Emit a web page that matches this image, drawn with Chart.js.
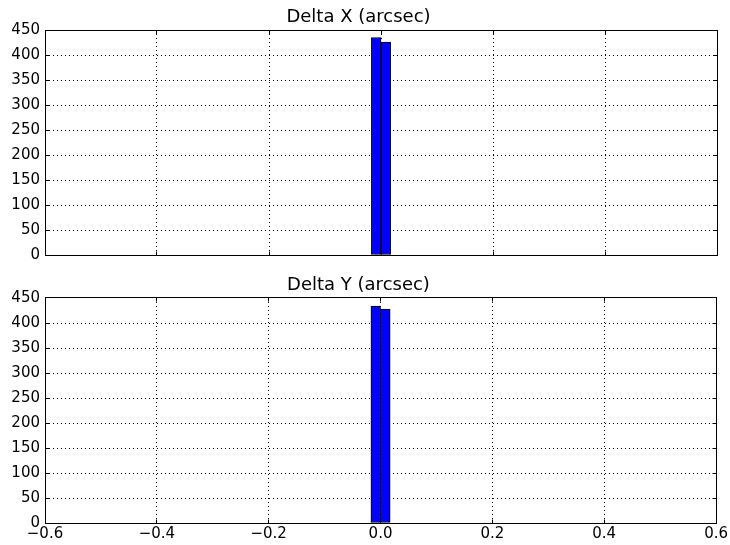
<!DOCTYPE html>
<html>
<head>
<meta charset="utf-8">
<script src="https://cdn.jsdelivr.net/npm/chart.js@4.4.0/dist/chart.umd.min.js"></script>
<style>
  html, body { margin: 0; padding: 0; background: #ffffff; }
  body { width: 730px; height: 545px; position: relative; overflow: hidden; }
  .panel { position: absolute; left: 0; width: 730px; }
  #p1 { top: 0; height: 270px; }
  #p2 { top: 270px; height: 275px; }
</style>
</head>
<body>
<div class="panel" id="p1"><canvas id="c1"></canvas></div>
<div class="panel" id="p2"><canvas id="c2"></canvas></div>
<script>
// ---- data ----
const titles = ["Delta X (arcsec)", "Delta Y (arcsec)"];
const binFirstEdge = -0.4816;
const binWidth = 0.0172;
// counts per bin (57 bins)
const countsX = [0,0,0,0,0,0,0,0,0,0, 0,0,0,0,0,0,0,0,0,0, 0,0,0,0,0,0,0,435,426,0, 0,0,0,0,0,0,0,0,0,0, 0,0,0,0,0,0,0,0,0,0, 0,0,0,0,0,0,0];
const countsY = [0,0,0,0,0,0,0,0,0,0, 0,0,0,0,0,0,0,0,0,0, 0,0,0,0,0,0,0,434,428,0, 0,0,0,0,0,0,0,0,0,0, 0,0,0,0,0,0,0,0,0,0, 0,0,0,0,0,0,0];
const xTicks = [-0.6, -0.4, -0.2, 0.0, 0.2, 0.4, 0.6];
const yTicks = [0, 50, 100, 150, 200, 250, 300, 350, 400, 450];

const FONT = "'DejaVu Sans', sans-serif";

function toPoints(counts) {
  return counts.map((c, i) => ({ x: binFirstEdge + (i + 0.5) * binWidth, y: c }));
}
function fmtX(v) {
  if (v < -1e-9) return '\u2212' + Math.abs(v).toFixed(1);
  return Math.abs(v).toFixed(1);
}
function al(p) { return Math.round(p - 0.5) + 0.5; }

const framePlugin = {
  id: 'frame',
  afterDraw(chart) {
    const ctx = chart.ctx;
    const xs = chart.scales.x, ys = chart.scales.y;
    const L = al(xs.getPixelForValue(-0.6)), R = al(xs.getPixelForValue(0.6));
    const T = al(ys.getPixelForValue(450)), B = al(ys.getPixelForValue(0));
    ctx.save();
    ctx.strokeStyle = '#000';
    ctx.lineWidth = 1;
    ctx.setLineDash([]);
    ctx.strokeRect(L, T, R - L, B - T);
    ctx.beginPath();
    xTicks.forEach(t => {
      const px = al(xs.getPixelForValue(t));
      ctx.moveTo(px, B); ctx.lineTo(px, B - 4);
      ctx.moveTo(px, T); ctx.lineTo(px, T + 4);
    });
    yTicks.forEach(t => {
      const py = al(ys.getPixelForValue(t));
      ctx.moveTo(L, py); ctx.lineTo(L + 4, py);
      ctx.moveTo(R, py); ctx.lineTo(R - 4, py);
    });
    ctx.stroke();
    ctx.restore();
  }
};

function edgeColor(lo, hi) {
  return (c) => {
    const v = c.tick ? c.tick.value : null;
    if (v === null || Math.abs(v - lo) < 1e-9 || Math.abs(v - hi) < 1e-9) return 'rgba(0,0,0,0)';
    return '#000';
  };
}

function makeChart(id, counts, title, showXLabels) {
  return new Chart(document.getElementById(id), {
    type: 'bar',
    data: {
      datasets: [{
        data: toPoints(counts),
        backgroundColor: '#0000ff',
        borderColor: '#000000',
        borderWidth: 1,
        borderSkipped: false,
        barPercentage: 1.0,
        categoryPercentage: 1.0
      }]
    },
    options: {
      responsive: true,
      maintainAspectRatio: false,
      animation: false,
      devicePixelRatio: 1,
      layout: { padding: { left: 0, right: 13, top: 0, bottom: 0 } },
      plugins: {
        legend: { display: false },
        tooltip: { enabled: false },
        title: {
          display: true,
          text: title,
          color: '#000',
          font: { family: FONT, size: 18, weight: 'normal', lineHeight: 1.2 },
          padding: showXLabels ? { top: 4.6, bottom: 1.8 } : { top: 6.6, bottom: 1.8 }
        }
      },
      scales: {
        x: {
          type: 'linear',
          min: -0.6, max: 0.6,
          offset: false,
          afterBuildTicks(scale) { scale.ticks = xTicks.map(v => ({ value: v })); },
          afterFit(scale) { scale.height = showXLabels ? 22 : 15; },
          grid: {
            display: true, offset: false, drawTicks: false,
            color: edgeColor(-0.6, 0.6), lineWidth: 1
          },
          border: { display: false, dash: [1, 3] },
          ticks: {
            display: showXLabels,
            padding: 2,
            color: '#000',
            font: { family: FONT, size: 15 },
            maxRotation: 0,
            autoSkip: false,
            callback: (v) => fmtX(v)
          }
        },
        y: {
          min: 0, max: 450,
          afterBuildTicks(scale) { scale.ticks = yTicks.map(v => ({ value: v })); },
          afterFit(scale) { scale.width = 45; },
          grid: { display: true, drawTicks: false, color: edgeColor(0, 450), lineWidth: 1 },
          border: { display: false, dash: [1, 3] },
          ticks: {
            padding: 5,
            color: '#000',
            font: { family: FONT, size: 15 },
            autoSkip: false
          }
        }
      }
    },
    plugins: [framePlugin]
  });
}

makeChart('c1', countsX, titles[0], false);
makeChart('c2', countsY, titles[1], true);
</script>
</body>
</html>
